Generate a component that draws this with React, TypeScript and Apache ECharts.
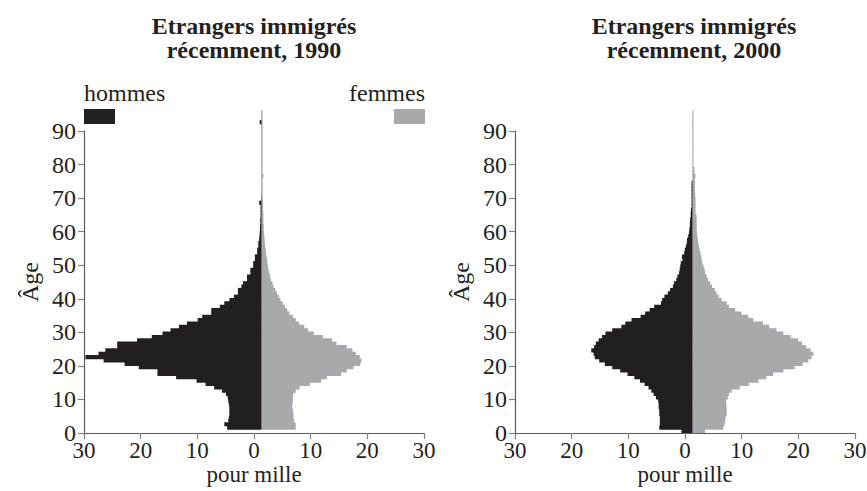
import React, { useEffect, useRef } from "react";
import * as echarts from "echarts";

// Age pyramid data (per mille), index = age in years (0..95)
const male1990 = [
  0, 6.1, 6.6, 5.9, 5.8, 5.7, 5.7, 5.7, 5.8, 5.9,
  6.0, 6.3, 7.0, 8.4, 9.9, 11.5, 15.1, 18.4, 18.4, 21.7,
  24.2, 27.9, 31.1, 28.8, 27.6, 25.5, 25.5, 22.0, 19.4, 17.5,
  16.1, 14.6, 13.2, 11.3, 10.5, 8.9, 8.9, 7.4, 6.6, 5.7,
  4.9, 4.2, 4.2, 3.6, 3.3, 2.6, 2.6, 2.0, 2.0, 1.5,
  1.5, 1.2, 1.2, 0.8, 0.8, 0.6, 0.6, 0.45, 0.4, 0.35,
  0.3, 0.3, 0.25, 0.25, 0.2, 0.2, 0.2, 0.2, 0.45, 0.1,
  0.08, 0.05, 0.05, 0.05, 0.05, 0.05, 0.05, 0.05, 0.05, 0.05,
  0.05, 0.05, 0.05, 0.05, 0.05, 0.05, 0.05, 0.05, 0.05, 0.05,
  0.05, 0.05, 0.35, 0.05, 0.05, 0.05,
];
const female1990 = [
  0, 6.0, 6.0, 5.7, 5.6, 5.6, 5.5, 5.4, 5.4, 5.5,
  5.5, 5.6, 6.0, 6.7, 8.5, 10.5, 11.5, 14.0, 15.0, 16.2,
  17.4, 17.6, 17.3, 16.6, 16.0, 15.0, 13.2, 12.4, 10.8, 9.2,
  8.2, 7.5, 6.6, 6.0, 5.5, 4.9, 4.5, 4.1, 3.7, 3.3,
  3.0, 2.7, 2.4, 2.1, 1.9, 1.6, 1.45, 1.35, 1.2, 1.1,
  1.0, 0.95, 0.85, 0.75, 0.7, 0.6, 0.55, 0.5, 0.45, 0.4,
  0.35, 0.35, 0.3, 0.3, 0.3, 0.28, 0.25, 0.25, 0.22, 0.2,
  0.18, 0.16, 0.16, 0.16, 0.16, 0.16, 0.3, 0.15, 0.15, 0.15,
  0.15, 0.15, 0.15, 0.15, 0.15, 0.15, 0.15, 0.15, 0.15, 0.15,
  0.15, 0.15, 0.15, 0.15, 0.15, 0.15,
];
const male2000 = [
  2.0, 5.9, 5.8, 5.8, 5.8, 5.9, 5.9, 6.0, 6.0, 6.1,
  6.5, 6.9, 7.3, 7.8, 8.5, 9.3, 10.3, 11.5, 12.8, 14.2,
  15.5, 16.5, 17.3, 17.5, 17.9, 17.4, 17.1, 16.6, 16.0, 15.4,
  14.2, 12.6, 11.9, 10.8, 9.2, 8.4, 7.6, 6.8, 5.6, 5.4,
  5.0, 4.4, 4.0, 3.5, 3.3, 2.9, 2.7, 2.4, 2.3, 2.2,
  2.1, 1.8, 1.9, 1.5, 1.4, 1.2, 1.05, 1.0, 0.8, 0.65,
  0.6, 0.5, 0.5, 0.45, 0.35, 0.35, 0.3, 0.2, 0.2, 0.2,
  0.2, 0.2, 0.2, 0.2, 0.2, 0.03, 0.03, 0.03, 0.03, 0.03,
  0.03, 0.03, 0.03, 0.03, 0.03, 0.03, 0.03, 0.03, 0.03, 0.03,
  0.03, 0.03, 0.03, 0.03, 0.03, 0.03,
];
const female2000 = [
  2.2, 5.4, 5.6, 5.7, 5.8, 6.0, 6.0, 6.0, 5.9, 5.9,
  6.2, 6.4, 6.9, 8.3, 9.9, 11.6, 13.0, 14.2, 16.0, 18.0,
  19.4, 20.4, 21.0, 21.3, 20.8, 20.0, 19.3, 18.6, 17.3, 16.0,
  14.8, 13.5, 12.4, 10.7, 9.8, 8.6, 7.5, 6.4, 6.0, 5.1,
  4.6, 4.2, 3.9, 3.4, 3.1, 2.7, 2.5, 2.2, 2.1, 1.9,
  1.7, 1.6, 1.5, 1.35, 1.2, 1.1, 1.0, 0.9, 0.8, 0.75,
  0.7, 0.7, 0.7, 0.7, 0.65, 0.5, 0.5, 0.5, 0.5, 0.5,
  0.45, 0.4, 0.4, 0.4, 0.4, 0.4, 0.5, 0.3, 0.3, 0.12,
  0.12, 0.12, 0.12, 0.12, 0.12, 0.12, 0.12, 0.12, 0.12, 0.12,
  0.12, 0.12, 0.12, 0.12, 0.12, 0.12,
];

const titles = ["Etrangers immigrés\nrécemment, 1990", "Etrangers immigrés\nrécemment, 2000"];
const legendLabels = ["hommes", "femmes"];
const xTicks = [-30, -20, -10, 0, 10, 20, 30];
const yTicks = [0, 10, 20, 30, 40, 50, 60, 70, 80, 90];
const xName = "pour mille";
const yName = "Âge";

const SPLIT = 1.36; // the pyramid's middle line sits slightly right of the 0 tick
const BLACK = "#231f20";
const GREY = "#a7a9ac";
const AXIS = "#58595b";
const FONT = "Liberation Serif, Times New Roman, serif";
const FS = 24;

function pyramid(values: number[], side: number, idx: number, color: string) {
  return {
    type: "custom",
    xAxisIndex: idx,
    yAxisIndex: idx,
    clip: false,
    silent: true,
    data: values.map((v, age) => [v, age]),
    renderItem: (_p: any, api: any) => {
      const v = api.value(0);
      const age = api.value(1);
      const a = api.coord([SPLIT, age]);
      const b = api.coord([SPLIT + side * v, age + 1]);
      return {
        type: "rect",
        shape: {
          x: Math.min(a[0], b[0]),
          y: b[1] - 0.8,
          width: Math.abs(b[0] - a[0]),
          height: a[1] - b[1] + 0.8,
        },
        style: { fill: color },
      };
    },
  };
}

function xAxis(idx: number) {
  return {
    gridIndex: idx,
    type: "value",
    min: xTicks[0],
    max: xTicks[xTicks.length - 1],
    interval: 10,
    axisLine: { show: true, onZero: false, lineStyle: { color: AXIS, width: 1.2 } },
    axisTick: { show: true, length: 6, lineStyle: { color: "#808285", width: 1.2 } },
    axisLabel: {
      formatter: (v: number) => String(Math.abs(v)),
      fontSize: 23,
      lineHeight: 22,
      color: BLACK,
      fontFamily: FONT,
      margin: 6,
    },
    splitLine: { show: false },
    name: xName,
    nameLocation: "middle",
    nameGap: 30,
    nameMoveOverlap: false,
    nameTextStyle: { fontSize: 23, lineHeight: 22, color: BLACK, fontFamily: FONT },
  };
}

function yAxis(idx: number) {
  return {
    gridIndex: idx,
    type: "value",
    min: yTicks[0],
    max: yTicks[yTicks.length - 1],
    interval: 10,
    axisLine: { show: true, onZero: false, lineStyle: { color: AXIS, width: 1.2 } },
    axisTick: { show: true, length: 6, lineStyle: { color: "#808285", width: 1.2 } },
    axisLabel: { fontSize: FS, color: BLACK, fontFamily: FONT, margin: 8 },
    splitLine: { show: false },
    name: yName,
    nameLocation: "middle",
    nameRotate: 90,
    nameGap: 42,
    nameMoveOverlap: false,
    nameTextStyle: { fontSize: FS, color: BLACK, fontFamily: FONT },
  };
}

export default function App() {
  const ref = useRef<HTMLDivElement>(null);
  useEffect(() => {
    if (!ref.current) return;
    const chart = echarts.init(ref.current, null, { renderer: "svg" });
    const titleText = (t: string, cx: number) => ({
      type: "text",
      x: cx,
      y: 14,
      style: {
        text: t,
        font: `bold 24px ${FONT}`,
        fill: BLACK,
        align: "center",
        verticalAlign: "top",
        lineHeight: 24,
      },
    });
    chart.setOption({
      animation: false,
      backgroundColor: "#ffffff",
      grid: [
        { left: 84, top: 131, width: 340, height: 302, outerBoundsMode: "none", containLabel: false },
        { left: 515, top: 131, width: 340, height: 302, outerBoundsMode: "none", containLabel: false },
      ],
      xAxis: [xAxis(0), xAxis(1)],
      yAxis: [yAxis(0), yAxis(1)],
      series: [
        pyramid(male1990, -1, 0, BLACK),
        pyramid(female1990, 1, 0, GREY),
        pyramid(male2000, -1, 1, BLACK),
        pyramid(female2000, 1, 1, GREY),
      ],
      graphic: [
        titleText(titles[0], 254),
        titleText(titles[1], 694),
        {
          type: "text",
          x: 84,
          y: 93,
          style: { text: legendLabels[0], font: `${FS}px ${FONT}`, fill: BLACK, align: "left", verticalAlign: "middle" },
        },
        {
          type: "text",
          x: 425,
          y: 93,
          style: { text: legendLabels[1], font: `${FS}px ${FONT}`, fill: BLACK, align: "right", verticalAlign: "middle" },
        },
        { type: "rect", shape: { x: 84, y: 109, width: 31, height: 15 }, style: { fill: BLACK } },
        { type: "rect", shape: { x: 394, y: 109, width: 31, height: 15 }, style: { fill: GREY } },
      ],
    });
    return () => chart.dispose();
  }, []);
  return (
    <div
      ref={ref}
      style={{ position: "fixed", left: 0, top: 0, width: 867, height: 491, background: "#fff" }}
    />
  );
}
